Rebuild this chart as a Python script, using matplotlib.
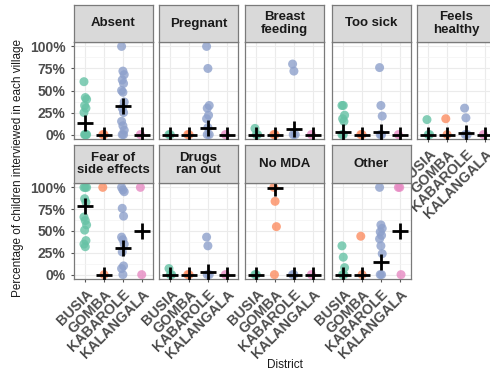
import matplotlib
matplotlib.use("Agg")
import matplotlib.pyplot as plt
from matplotlib.ticker import FixedLocator, FuncFormatter

plt.rcParams['font.family'] = ['Liberation Sans', 'DejaVu Sans']

districts = ["BUSIA", "GOMBA", "KABAROLE", "KALANGALA"]
colors = ["#66C2A5", "#FC8D62", "#8DA0CB", "#E78AC3"]
reasons = ["Absent", "Pregnant", "Breast\nfeeding", "Too sick", "Feels\nhealthy",
           "Fear of\nside effects", "Drugs\nran out", "No MDA", "Other"]

# village percentages per district (BUSIA, GOMBA, KABAROLE, KALANGALA)
absent = [[60, 42, 40, 33, 30, 25, 0, 0, 0, 0], [0, 0],
          [100, 72, 68, 62, 58, 50, 48, 37, 30, 25, 15, 10, 5, 0, 0], [0]]
pregnant = [[0, 0], [0, 0], [100, 75, 33, 30, 22, 18, 8, 0, 0], [0]]
breast = [[7, 0, 0], [0, 0], [80, 72, 0, 0], [0]]
too_sick = [[33, 33, 22, 18, 15, 0, 0], [0, 0], [76, 33, 21, 0, 0], [0]]
healthy = [[17, 0, 0], [18, 0], [30, 19, 0, 0], [0]]
fear = [[100, 100, 100, 87, 83, 66, 62, 57, 51, 39, 35, 32], [100, 0],
        [100, 97, 95, 76, 67, 43, 40, 35, 26, 10, 7, 0], [100, 0]]
drugs = [[7, 0, 0], [0, 0], [43, 33, 0, 0], [0]]
no_mda = [[0, 0], [100, 84, 55, 0], [0, 0], [0]]
other = [[33, 20, 8, 0, 0], [44, 0],
         [100, 57, 53, 49, 45, 41, 33, 24, 0, 0], [100, 100, 0]]

# weighted district means (black crosses)
absent_mean = [13, 0, 32, 0]
pregnant_mean = [0, 0, 7.5, 0]
breast_mean = [0, 0, 6, 0]
too_sick_mean = [3, 0, 3, 0]
healthy_mean = [0, 0, 1.5, 0]
fear_mean = [78.5, 0, 30.5, 50]
drugs_mean = [0, 0, 2.5, 0]
no_mda_mean = [0, 99, 0, 0]
other_mean = [0, 0, 15, 50]

points = [absent, pregnant, breast, too_sick, healthy, fear, drugs, no_mda, other]
means = [absent_mean, pregnant_mean, breast_mean, too_sick_mean, healthy_mean,
         fear_mean, drugs_mean, no_mda_mean, other_mean]

W, H = 490, 374
fig = plt.figure(figsize=(W / 100, H / 100), dpi=100)


def rect(left, top, w, h):
    return [left / W, 1 - (top + h) / H, w / W, h / H]


lefts = [74, 159, 245, 332, 417]
rows = [(5, 37, 42, 97), (145, 38, 183, 96)]

for i, name in enumerate(reasons):
    r, c = divmod(i, 5)
    s_top, s_h, p_top, p_h = rows[r]
    ax = fig.add_axes(rect(lefts[c], p_top, 79, p_h))
    sx = fig.add_axes(rect(lefts[c], s_top, 79, s_h))

    sx.set_facecolor("#D9D9D9")
    sx.set_xticks([]); sx.set_yticks([])
    for sp in sx.spines.values():
        sp.set_color("#7a7a7a"); sp.set_linewidth(0.9)
    sx.text(0.5, 0.5, name, ha="center", va="center", fontsize=9.5,
            fontweight="bold", color="#1a1a1a", linespacing=1.0,
            transform=sx.transAxes)

    for k, (vals, col) in enumerate(zip(points[i], colors)):
        xs = [k + ((j * 7) % 5 - 2) * 0.035 for j in range(len(vals))]
        ax.scatter(xs, vals, s=42, color=col, alpha=0.8, edgecolors="none", zorder=3)
    ax.plot(range(4), means[i], linestyle="none", marker="+", markersize=11,
            markeredgewidth=2, color="black", zorder=4)

    ax.set_xlim(-0.6, 3.6)
    ax.set_ylim(-5, 105)
    ax.yaxis.set_major_locator(FixedLocator([0, 25, 50, 75, 100]))
    ax.yaxis.set_minor_locator(FixedLocator([12.5, 37.5, 62.5, 87.5]))
    ax.set_xticks(range(4))
    ax.grid(which="major", color="#EBEBEB", linewidth=0.8, zorder=0)
    ax.grid(which="minor", axis="y", color="#F3F3F3", linewidth=0.5, zorder=0)
    ax.set_axisbelow(True)
    for sp in ax.spines.values():
        sp.set_color("#7a7a7a"); sp.set_linewidth(0.9)
    ax.tick_params(which="minor", length=0)
    ax.tick_params(which="major", length=2.5, color="#555555", labelsize=10,
                   labelcolor="#4D4D4D")

    if c == 0:
        ax.yaxis.set_major_formatter(FuncFormatter(lambda v, p: f"{v:.0f}%"))
        for t in ax.get_yticklabels():
            t.set_fontweight("bold")
    else:
        ax.tick_params(axis="y", labelleft=False, length=0)

    if r == 1 or c == 4:
        ax.set_xticklabels(districts, rotation=45, ha="right",
                           rotation_mode="anchor", fontweight="bold",
                           fontsize=10.3)
    else:
        ax.tick_params(axis="x", labelbottom=False, length=0)

fig.text(18 / W, 1 - 168 / H, "Percentage of children interviewed in each village",
         rotation=90, ha="center", va="center", fontsize=8.5, color="#1a1a1a")
fig.text(285 / W, 1 - 365 / H, "District", ha="center", va="center",
         fontsize=8.5, color="#1a1a1a")

fig.savefig("out.png", dpi=100)
